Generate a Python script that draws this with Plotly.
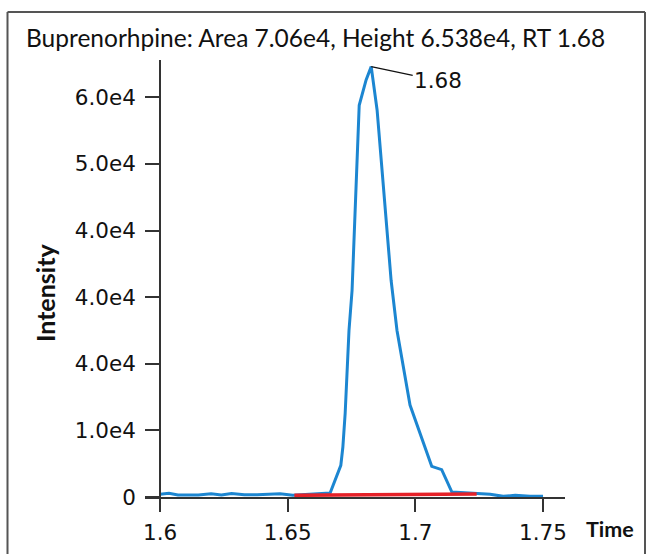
import plotly.graph_objects as go

# chromatogram trace (Time, Intensity)
time = [1.6, 1.6035, 1.607, 1.615, 1.62, 1.624, 1.628, 1.633, 1.638, 1.643, 1.647,
        1.652, 1.657, 1.662, 1.6666, 1.6708, 1.6716, 1.6725, 1.6731, 1.6740, 1.6752,
        1.6764, 1.6772, 1.6780, 1.6807, 1.6827, 1.6850, 1.6866, 1.6885, 1.6905,
        1.6928, 1.6952, 1.6979, 1.7064, 1.7103, 1.7143, 1.7214, 1.7241, 1.7293,
        1.7344, 1.7391, 1.7449, 1.75]
intensity = [400, 550, 300, 300, 480, 300, 530, 350, 320, 450, 500,
             250, 350, 450, 600, 4760, 7500, 12570, 17500, 25000, 31000,
             42300, 52000, 58800, 62600, 64600, 58100, 50600, 42300, 32500,
             25000, 19800, 13800, 4600, 4100, 750, 550, 500, 400,
             100, 250, 100, 100]

# integration baseline
base_time = [1.6526, 1.7240]
base_int = [250, 450]

y_tickvals = [0, 10000, 20000, 30000, 40000, 50000, 60000]
y_ticktext = ["0", "1.0e4", "4.0e4", "4.0e4", "4.0e4", "5.0e4", "6.0e4"]
x_tickvals = [1.6, 1.65, 1.7, 1.75]
x_ticktext = ["1.6", "1.65", "1.7", "1.75"]

title_text = "Buprenorhpine: Area 7.06e4, Height 6.538e4, RT 1.68"
peak_rt, peak_h = 1.6827, 64600

FONT = "Lato, sans-serif"
TICKFONT = "DejaVu Sans, sans-serif"

fig = go.Figure()
fig.add_trace(go.Scatter(x=time, y=intensity, mode="lines",
                         line=dict(color="#1c86d1", width=3), hoverinfo="skip"))
fig.add_trace(go.Scatter(x=base_time, y=base_int, mode="lines",
                         line=dict(color="#e52128", width=3.5), hoverinfo="skip"))

W, H = 651, 554
ml, mr, mt, mb = 145, 86, 60, 57
pw, ph = W - ml - mr, H - mt - mb

def px(xp):
    return (xp - ml) / pw

def py(yp):
    return (H - mb - yp) / ph

fig.update_layout(
    width=W, height=H,
    margin=dict(l=ml, r=mr, t=mt, b=mb, pad=0, autoexpand=False),
    paper_bgcolor="white", plot_bgcolor="white",
    showlegend=False,
    font=dict(family=FONT, color="#111111", size=21),
    xaxis=dict(range=[1.5941, 1.7586], showgrid=False, zeroline=False,
               automargin=False,
               showline=True, linecolor="#333333", linewidth=1.5,
               ticks="outside", ticklen=13, tickwidth=1.5, tickcolor="#333333",
               tickvals=x_tickvals, ticktext=x_ticktext,
               tickfont=dict(size=21.5, family=TICKFONT, color="#111111"),
               ticklabelstandoff=2),
    yaxis=dict(range=[0, 65600], showgrid=False, zeroline=False,
               automargin=False,
               anchor="free", position=px(160),
               showline=True, linecolor="#333333", linewidth=1.5,
               ticks="outside", ticklen=14, tickwidth=1.5, tickcolor="#333333",
               tickvals=y_tickvals, ticktext=y_ticktext,
               tickfont=dict(size=21.5, family=TICKFONT, color="#111111"),
               ticklabelstandoff=5),
)

annotations = [
    dict(text=title_text, xref="paper", yref="paper", x=px(24), y=py(37),
         xanchor="left", yanchor="middle", showarrow=False,
         font=dict(size=24.5, family=FONT, color="#111111")),
    dict(text="<b>Intensity</b>", xref="paper", yref="paper", x=px(45), y=py(293),
         xanchor="center", yanchor="middle", textangle=-90, showarrow=False,
         font=dict(size=25, family=FONT, color="#111111")),
    dict(text="<b>Time</b>", xref="paper", yref="paper", x=px(610), y=py(529),
         xanchor="center", yanchor="middle", showarrow=False,
         font=dict(size=21.5, family=FONT, color="#111111")),
    dict(text=f"{peak_rt:.2f}", x=peak_rt, y=peak_h, xref="x", yref="y",
         showarrow=True, arrowhead=0, arrowwidth=1.2, arrowcolor="#111111",
         ax=67, ay=14, font=dict(size=21.5, family=TICKFONT, color="#111111")),
]
fig.update_layout(annotations=annotations)

frame = dict(color="#555555", width=2)
fig.add_shape(type="line", xref="paper", yref="paper", x0=px(7.5), x1=px(7.5),
              y0=py(12), y1=py(560), line=frame)
fig.add_shape(type="line", xref="paper", yref="paper", x0=px(7.5), x1=px(645),
              y0=py(12), y1=py(12), line=frame)
fig.add_shape(type="line", xref="paper", yref="paper", x0=px(645), x1=px(645),
              y0=py(12), y1=py(560), line=frame)

fig.write_html("out.html")
